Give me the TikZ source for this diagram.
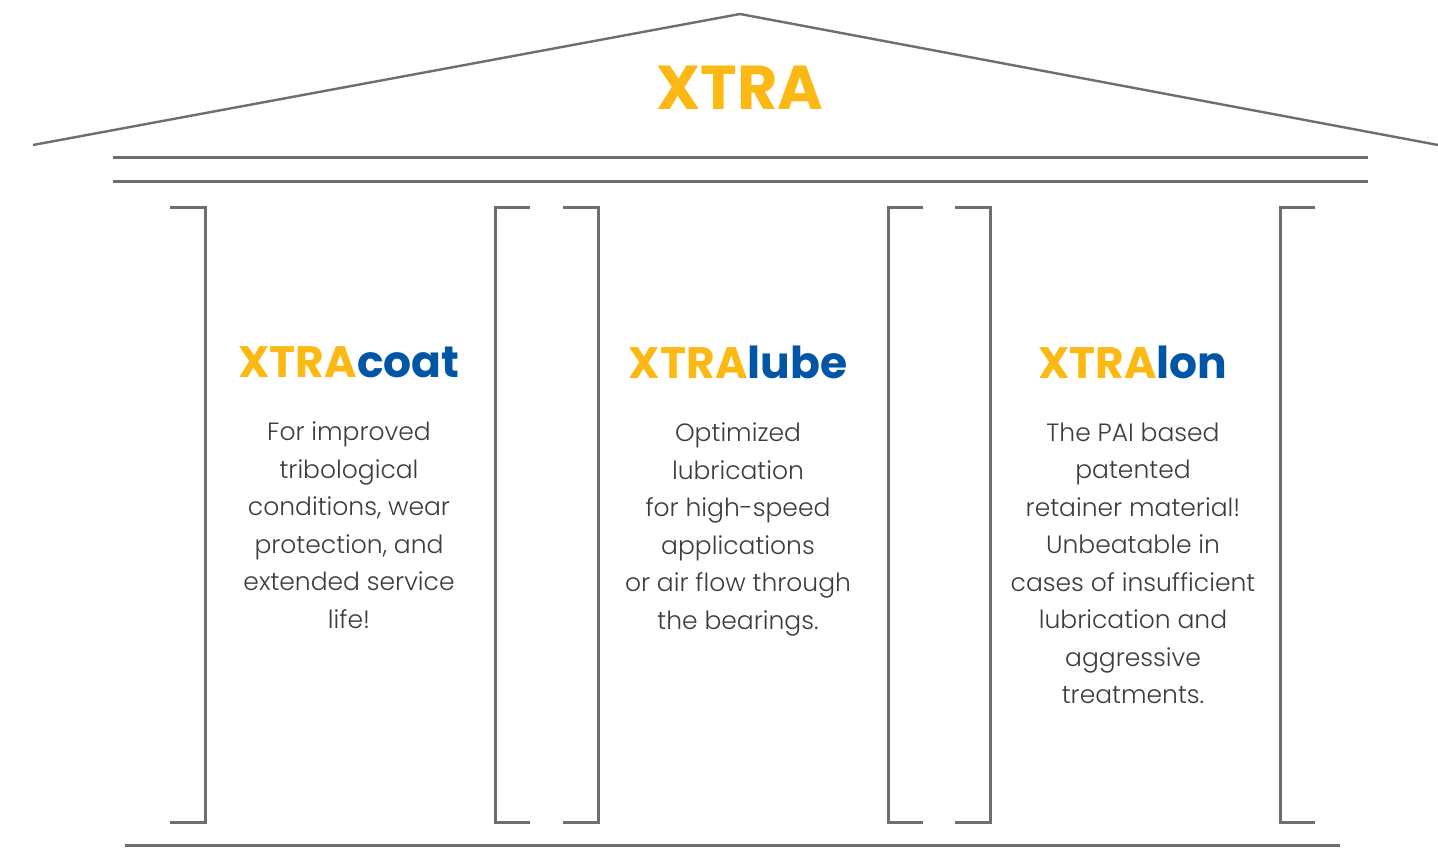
\documentclass[tikz,border=0pt]{standalone}
\usepackage{fontspec}
\setmainfont{Poppins}
\newfontfamily\lightfont{Poppins Light}
\usetikzlibrary{positioning}

\definecolor{xyellow}{HTML}{FDB913}
\definecolor{xblue}{HTML}{0055A4}
\definecolor{xgrey}{HTML}{6D6E71}
\definecolor{xtext}{HTML}{3C3C3C}
\newcommand{\xbrand}[1]{\textcolor{xyellow}{XTRA}\textcolor{xblue}{#1}}

\begin{document}
\begin{tikzpicture}[x=0.5pt,y=-0.5pt,
  line/.style={xgrey,line width=1.5pt},
  brand/.style={font=\fontsize{22}{22}\selectfont\bfseries},
  body/.style={align=center,text=xtext,inner sep=0pt,
    font=\lightfont\fontsize{12.5}{18.75}\selectfont}]
  \useasboundingbox (0,0) rectangle (1438,866);
  % roof and beams
  \draw[line,line width=1.2pt] (33,145) -- (740,14) -- (1438,145);
  \draw[line] (113,158) -- (1368,158);
  \draw[line] (113,182) -- (1368,182);
  \draw[line] (125,845) -- (1340,845);
  % column brackets
  \foreach \x/\d in {205/-1,495/1,598/-1,888/1,990/-1,1280/1}
    \draw[line] (\x+\d*35,208) -- (\x,208) -- (\x,822) -- (\x+\d*35,822);
  \node[font=\fontsize{31}{31}\selectfont\bfseries,text=xyellow] (xtra) at (740,88) {XTRA};
  % columns
  \node[brand] (coat) at (349,362) {\xbrand{coat}};
  \node[body,below=18.5pt of coat] (coattext) {For improved\\tribological\\conditions, wear\\protection, and\\extended service\\life!};
  \node[brand] (lube) at (738,362) {\xbrand{lube}};
  \node[body,below=18.5pt of lube] (lubetext) {Optimized\\lubrication\\for high-speed\\applications\\or air flow through\\the bearings.};
  \node[brand] (lon) at (1133,362) {\xbrand{lon}};
  \node[body,below=18.5pt of lon] (lontext) {The PAI based\\patented\\retainer material!\\Unbeatable in\\cases of insufficient\\lubrication and\\aggressive\\treatments.};
\end{tikzpicture}
\end{document}
